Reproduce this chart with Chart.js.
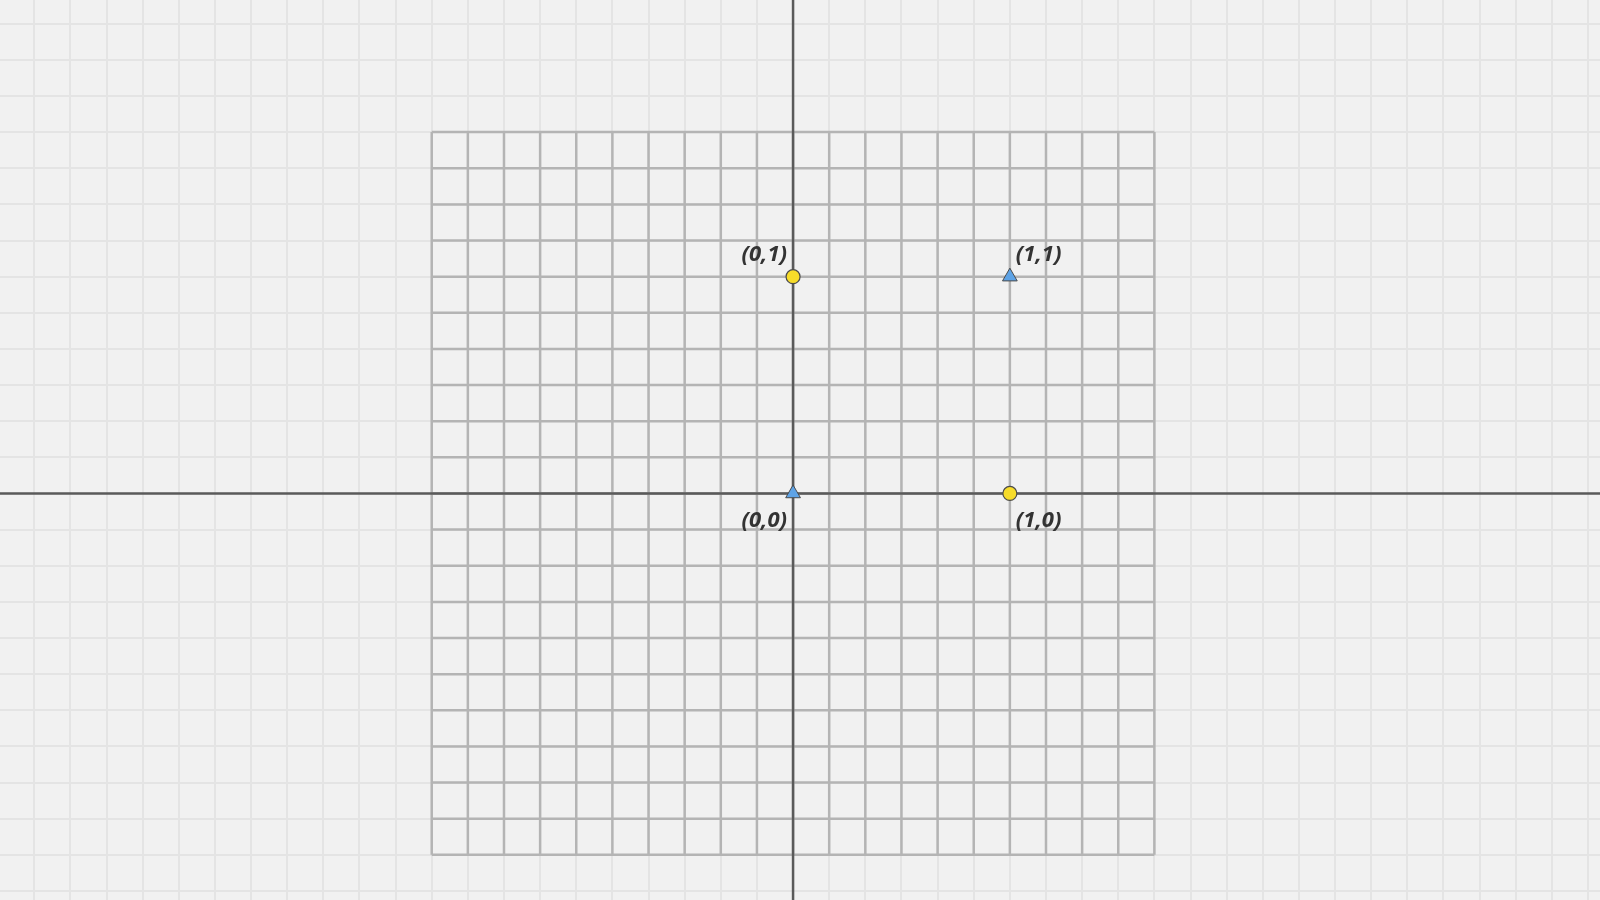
<!DOCTYPE html>
<html>
<head>
<meta charset="utf-8">
<title>XOR points</title>
<script src="https://cdn.jsdelivr.net/npm/chart.js@4/dist/chart.umd.min.js"></script>
<style>
  html, body { margin: 0; padding: 0; background: #f1f1f1; }
  #wrap { width: 1600px; height: 900px; }
</style>
</head>
<body>
<div id="wrap"><canvas id="xor"></canvas></div>
<script>
// ── Data ──
const TRI_X = [0, 1];
const TRI_Y = [0, 1];
const TRI_LABELS = ['(0,0)', '(1,1)'];

const DOT_X = [0, 1];
const DOT_Y = [1, 0];
const DOT_LABELS = ['(0,1)', '(1,0)'];

// view window and grid
const X_RANGE = [-3.658, 3.722];
const Y_RANGE = [-1.875, 2.276];
const GRID_STEP = 1 / 6;
const BOX_CELLS = 10;   // dark box spans ±10 cells around the origin

const COLORS = {
  bg: '#f1f1f1',
  faint: '#e4e4e4',
  box: '#b4b4b4',
  axis: '#5a5a5a',
  yellow: '#f7dc2a',
  blue: '#5ea3e6',
  outline: '#4a4a4a',
  text: '#333333'
};

function stepTicks(min, max) {
  const out = [];
  const k0 = Math.ceil(min / GRID_STEP);
  const k1 = Math.floor(max / GRID_STEP);
  for (let k = k0; k <= k1; k++) out.push({ value: k * GRID_STEP });
  return out;
}

function toPoints(xs, ys) {
  return xs.map((x, i) => ({ x, y: ys[i] }));
}

// ── Dark box grid + zero axes ──
const boxGrid = {
  id: 'boxGrid',
  beforeDatasetsDraw(chart) {
    const { ctx, chartArea, scales: { x, y } } = chart;
    const lim = BOX_CELLS * GRID_STEP;
    const left = x.getPixelForValue(-lim), right = x.getPixelForValue(lim);
    const top = y.getPixelForValue(lim), bottom = y.getPixelForValue(-lim);
    ctx.save();
    ctx.strokeStyle = COLORS.box;
    ctx.lineWidth = 2.5;
    ctx.beginPath();
    for (let k = -BOX_CELLS; k <= BOX_CELLS; k++) {
      const px = x.getPixelForValue(k * GRID_STEP);
      const py = y.getPixelForValue(k * GRID_STEP);
      ctx.moveTo(px, top); ctx.lineTo(px, bottom);
      ctx.moveTo(left, py); ctx.lineTo(right, py);
    }
    ctx.stroke();

    ctx.strokeStyle = COLORS.axis;
    ctx.lineWidth = 2.5;
    ctx.beginPath();
    const x0 = x.getPixelForValue(0), y0 = y.getPixelForValue(0);
    ctx.moveTo(x0, chartArea.top); ctx.lineTo(x0, chartArea.bottom);
    ctx.moveTo(chartArea.left, y0); ctx.lineTo(chartArea.right, y0);
    ctx.stroke();
    ctx.restore();
  }
};

// ── Point labels ──
const pointLabels = {
  id: 'pointLabels',
  afterDatasetsDraw(chart) {
    const { ctx } = chart;
    ctx.save();
    ctx.font = 'italic bold 22px "Noto Sans"';
    ctx.fillStyle = COLORS.text;
    ctx.textBaseline = 'middle';
    chart.data.datasets.forEach((ds, di) => {
      const meta = chart.getDatasetMeta(di);
      meta.data.forEach((el, i) => {
        const pt = ds.data[i];
        const onLeft = pt.x === 0;
        ctx.textAlign = onLeft ? 'right' : 'left';
        const tx = el.x + (onLeft ? -6 : 6);
        const ty = el.y + (pt.y === 1 ? -22 : 27);
        ctx.fillText(ds.pointLabels[i], tx, ty);
      });
    });
    ctx.restore();
  }
};

const faintGrid = {
  color: (c) => (Math.abs(c.tick.value) < 1e-9 ? 'rgba(0,0,0,0)' : COLORS.faint),
  lineWidth: 2,
  drawTicks: false
};

new Chart(document.getElementById('xor'), {
  type: 'scatter',
  data: {
    datasets: [
      {
        label: 'class 0',
        data: toPoints(TRI_X, TRI_Y),
        pointLabels: TRI_LABELS,
        pointStyle: 'triangle',
        pointRadius: 8.5,
        pointHoverRadius: 8.5,
        backgroundColor: COLORS.blue,
        borderColor: COLORS.outline,
        borderWidth: 1
      },
      {
        label: 'class 1',
        data: toPoints(DOT_X, DOT_Y),
        pointLabels: DOT_LABELS,
        pointStyle: 'circle',
        pointRadius: 7,
        pointHoverRadius: 7,
        backgroundColor: COLORS.yellow,
        borderColor: COLORS.outline,
        borderWidth: 1.2
      }
    ]
  },
  options: {
    responsive: true,
    maintainAspectRatio: false,
    animation: false,
    layout: { padding: 0, autoPadding: false },
    plugins: {
      legend: { display: false },
      tooltip: { enabled: false }
    },
    scales: {
      x: {
        type: 'linear',
        min: X_RANGE[0],
        max: X_RANGE[1],
        afterBuildTicks: (s) => { s.ticks = stepTicks(X_RANGE[0], X_RANGE[1]); },
        ticks: { display: false },
        border: { display: false },
        grid: faintGrid
      },
      y: {
        type: 'linear',
        min: Y_RANGE[0],
        max: Y_RANGE[1],
        afterBuildTicks: (s) => { s.ticks = stepTicks(Y_RANGE[0], Y_RANGE[1]); },
        ticks: { display: false },
        border: { display: false },
        grid: faintGrid
      }
    }
  },
  plugins: [boxGrid, pointLabels]
});
</script>
</body>
</html>
